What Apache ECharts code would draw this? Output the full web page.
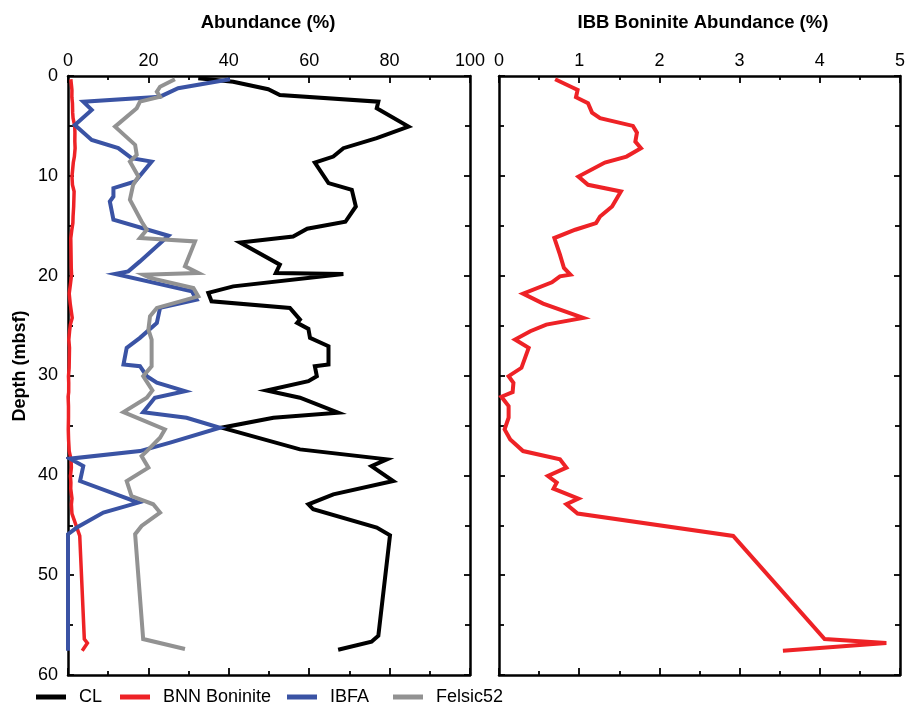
<!DOCTYPE html>
<html>
<head>
<meta charset="utf-8">
<script src="https://cdn.jsdelivr.net/npm/echarts@6/dist/echarts.min.js"></script>
<style>
html,body{margin:0;padding:0;background:#fff;}
#chart{width:908px;height:703px;}
</style>
</head>
<body>
<div id="chart"></div>
<script>
// ---- Data ----
const seriesNames = ['CL', 'BNN Boninite', 'IBFA', 'Felsic52'];

const clDepth = [0.23,0.57,1.33,1.9,2.57,3.23,5.07,6.23,7.23,8.07,8.67,10.73,11.4,13.07,14.6,15.3,16.07,16.67,18.9,19.73,19.83,21.07,21.73,22.57,23.23,24.4,24.73,25.33,26.23,27.07,28.9,29.07,30.07,30.57,31.5,32.23,33.73,34.23,35.23,37.4,38.4,39.07,40.57,41.9,42.9,43.4,45.23,46,56.07,56.67,57.47];
const clValue = [32.4,41.1,49.8,52.7,77.2,76.8,84.7,76.8,68.5,66.0,61.4,64.8,70.6,71.6,69.0,59.5,56,42.8,52.7,51.7,68.5,41.1,34.9,35.7,55.2,57.7,57,59.8,60.2,64.8,64.8,61.4,61.9,59.8,49.4,57.7,67.2,51.1,38.2,57.7,79.3,75.5,80.9,66,59.8,61,76.8,80.1,77.2,75.5,67.2];

const ibfaDepth = [0.33,1.23,2.07,2.57,3.4,4.9,6.4,7.23,8.23,8.57,10.57,11.23,12.07,12.57,14.4,16,18.57,19.57,19.83,21.57,22.4,23.23,24.73,26.23,27.23,28.9,29.07,30.07,30.73,31.57,32.23,33.67,34.23,35.23,36.73,37.57,38.33,39.07,40.57,42.73,43.73,45.23,45.9,57.57];
const ibfaValue = [40.3,27.4,22.9,3.8,5.9,1.7,5.9,12.5,15.8,20.8,16.7,11.3,11.3,10.4,11.3,25,17.9,15,11.7,30.8,32,22.9,22.1,17.9,14.6,13.8,17.9,19.6,22.1,29.1,21.6,18.7,29.5,37.8,25.4,17.9,0.5,3.8,3,17.5,8.8,2.2,0,0];

const felsicDepth = [0.33,1.07,1.57,2.07,2.57,3.23,5.07,6.9,7.9,8.57,10.07,10.9,12.4,14.57,15.4,16.23,16.57,19.07,19.73,19.9,20.23,21.23,22.07,23.23,24.07,25.4,26.4,29.07,30.07,31.5,32.23,33.67,35.4,36.23,37.57,38.07,39.23,40.57,42.07,42.9,43.73,45.07,45.9,56.4,57.4];
const felsicValue = [26.6,22.9,22.1,22.9,17.9,17.1,11.7,16.7,17.1,15.4,17.5,16.2,15.4,18.3,19.6,17.9,31.6,29.1,32.4,18.7,20.4,31.2,32.4,22.1,20.4,20,20.8,20.8,18.7,21,19.6,13.8,24.1,22.9,19.6,18.3,20,14.6,15.8,21.2,22.9,18.3,16.7,18.7,29.1];

const boniniteDepth = [0.33,1.13,1.4,2.13,2.73,3.67,4.23,5,5.67,6.57,7.23,8.07,8.67,10.07,10.9,11.57,13.07,14.07,14.73,15.4,16.23,17.9,19.23,19.9,20.07,20.67,21.8,22.8,24.23,24.9,25.57,26.4,27.23,29.23,30.07,30.73,31.67,32.13,33.07,34.23,35.4,36.4,37.57,38.4,39.23,40.07,40.73,41.33,42.33,42.9,43.83,46.07,56.4,56.8,57.57];
const boniniteValue = [0.70,0.91,0.98,0.96,1.11,1.16,1.26,1.67,1.72,1.70,1.77,1.59,1.32,0.99,1.11,1.52,1.41,1.26,1.21,0.95,0.69,0.76,0.81,0.89,0.76,0.66,0.30,0.55,1.05,0.59,0.39,0.20,0.37,0.28,0.12,0.18,0.17,0.03,0.12,0.12,0.07,0.14,0.30,0.76,0.84,0.61,0.72,0.68,0.99,0.84,0.98,2.92,4.06,4.83,3.54];

const leftTicks = [0,20,40,60,80,100];
const rightTicks = [0,1,2,3,4,5];
const depthTicks = [0,10,20,30,40,50,60];

// ---- Build chart ----
const FONT = "'Liberation Sans', Arial, Helvetica, sans-serif";
const colors = {CL:'#000000', BNN:'#ee2226', IBFA:'#3a53a4', FEL:'#929292'};

function pairs(vals, depths){ return vals.map((v,i)=>[v, depths[i]]); }

const axisLine = {show:true, onZero:false, lineStyle:{color:'#000', width:2.5}};
function xAx(grid, pos, min, max, interval, labels){
  return {
    type:'value', gridIndex:grid, position:pos, min:min, max:max, interval:interval,
    axisLine:axisLine,
    axisTick:{show:true, inside:true, length:7, lineStyle:{color:'#000', width:1.8}},
    minorTick:{show:true, splitNumber:2, length:4, lineStyle:{color:'#000', width:1.8}},
    splitLine:{show:false}, minorSplitLine:{show:false},
    axisLabel:{show:labels, color:'#000', fontSize:18, fontFamily:FONT, margin:6,
      formatter:(v)=> String(v)}
  };
}
function yAx(grid, pos, labels){
  return {
    type:'value', gridIndex:grid, position:pos, inverse:true, min:depthTicks[0], max:depthTicks[depthTicks.length-1], interval:10,
    axisLine:axisLine,
    axisTick:{show:true, inside:true, length:6, lineStyle:{color:'#000', width:1.8}},
    minorTick:{show:true, splitNumber:2, length:5, lineStyle:{color:'#000', width:1.8}},
    splitLine:{show:false}, minorSplitLine:{show:false},
    axisLabel:{show:labels, color:'#000', fontSize:18, fontFamily:FONT, margin:10}
  };
}

const lineBase = {type:'line', showSymbol:false, symbol:'none', clip:false, animation:false};

const option = {
  animation:false,
  backgroundColor:'#fff',
  grid:[
    {left:68, top:76, width:402, height:599},
    {left:499, top:76, width:401, height:599}
  ],
  xAxis:[
    xAx(0,'top',leftTicks[0],leftTicks[leftTicks.length-1],20,true),
    xAx(0,'bottom',leftTicks[0],leftTicks[leftTicks.length-1],20,false),
    xAx(1,'top',rightTicks[0],rightTicks[rightTicks.length-1],1,true),
    xAx(1,'bottom',rightTicks[0],rightTicks[rightTicks.length-1],1,false)
  ],
  yAxis:[
    yAx(0,'left',true),
    yAx(0,'right',false),
    yAx(1,'left',false),
    yAx(1,'right',false)
  ],
  legend:[
    {left:36, data:[seriesNames[0]]},
    {left:120, data:[seriesNames[1]]},
    {left:287, data:[seriesNames[2]]},
    {left:393, data:[seriesNames[3]]}
  ].map(l=>Object.assign({
    top:688, padding:0, icon:'rect', itemWidth:30, itemHeight:5, selectedMode:false,
    textStyle:{color:'#000', fontSize:18, fontFamily:FONT, padding:[0,0,0,8]}
  }, l)),
  graphic:[
    {type:'text', x:268, y:23, style:{text:'Abundance (%)', align:'center', verticalAlign:'middle', font:'bold 18.5px '+FONT, fill:'#000'}},
    {type:'text', x:703, y:23, style:{text:'IBB Boninite Abundance (%)', align:'center', verticalAlign:'middle', font:'bold 18.5px '+FONT, fill:'#000'}},
    {type:'text', x:20, y:366, rotation:Math.PI/2, style:{text:'Depth (mbsf)', align:'center', verticalAlign:'middle', font:'bold 18px '+FONT, fill:'#000'}}
  ],
  series:[
    Object.assign({}, lineBase, {name:seriesNames[0], xAxisIndex:0, yAxisIndex:0, color:colors.CL,
      lineStyle:{color:colors.CL, width:4, join:'miter'}, data:pairs(clValue, clDepth)}),
    Object.assign({}, lineBase, {name:seriesNames[1], xAxisIndex:0, yAxisIndex:0, color:colors.BNN,
      lineStyle:{color:colors.BNN, width:3.5, join:'miter'}, data:pairs(boniniteValue, boniniteDepth)}),
    Object.assign({}, lineBase, {name:seriesNames[2], xAxisIndex:0, yAxisIndex:0, color:colors.IBFA,
      lineStyle:{color:colors.IBFA, width:4, join:'miter'}, data:pairs(ibfaValue, ibfaDepth)}),
    Object.assign({}, lineBase, {name:seriesNames[3], xAxisIndex:0, yAxisIndex:0, color:colors.FEL,
      lineStyle:{color:colors.FEL, width:4, join:'miter'}, data:pairs(felsicValue, felsicDepth)}),
    Object.assign({}, lineBase, {name:'IBB Boninite', xAxisIndex:2, yAxisIndex:2, color:colors.BNN,
      lineStyle:{color:colors.BNN, width:4, join:'miter'}, data:pairs(boniniteValue, boniniteDepth)})
  ]
};

const chart = echarts.init(document.getElementById('chart'), null, {renderer:'canvas'});
chart.setOption(option);
</script>
</body>
</html>
